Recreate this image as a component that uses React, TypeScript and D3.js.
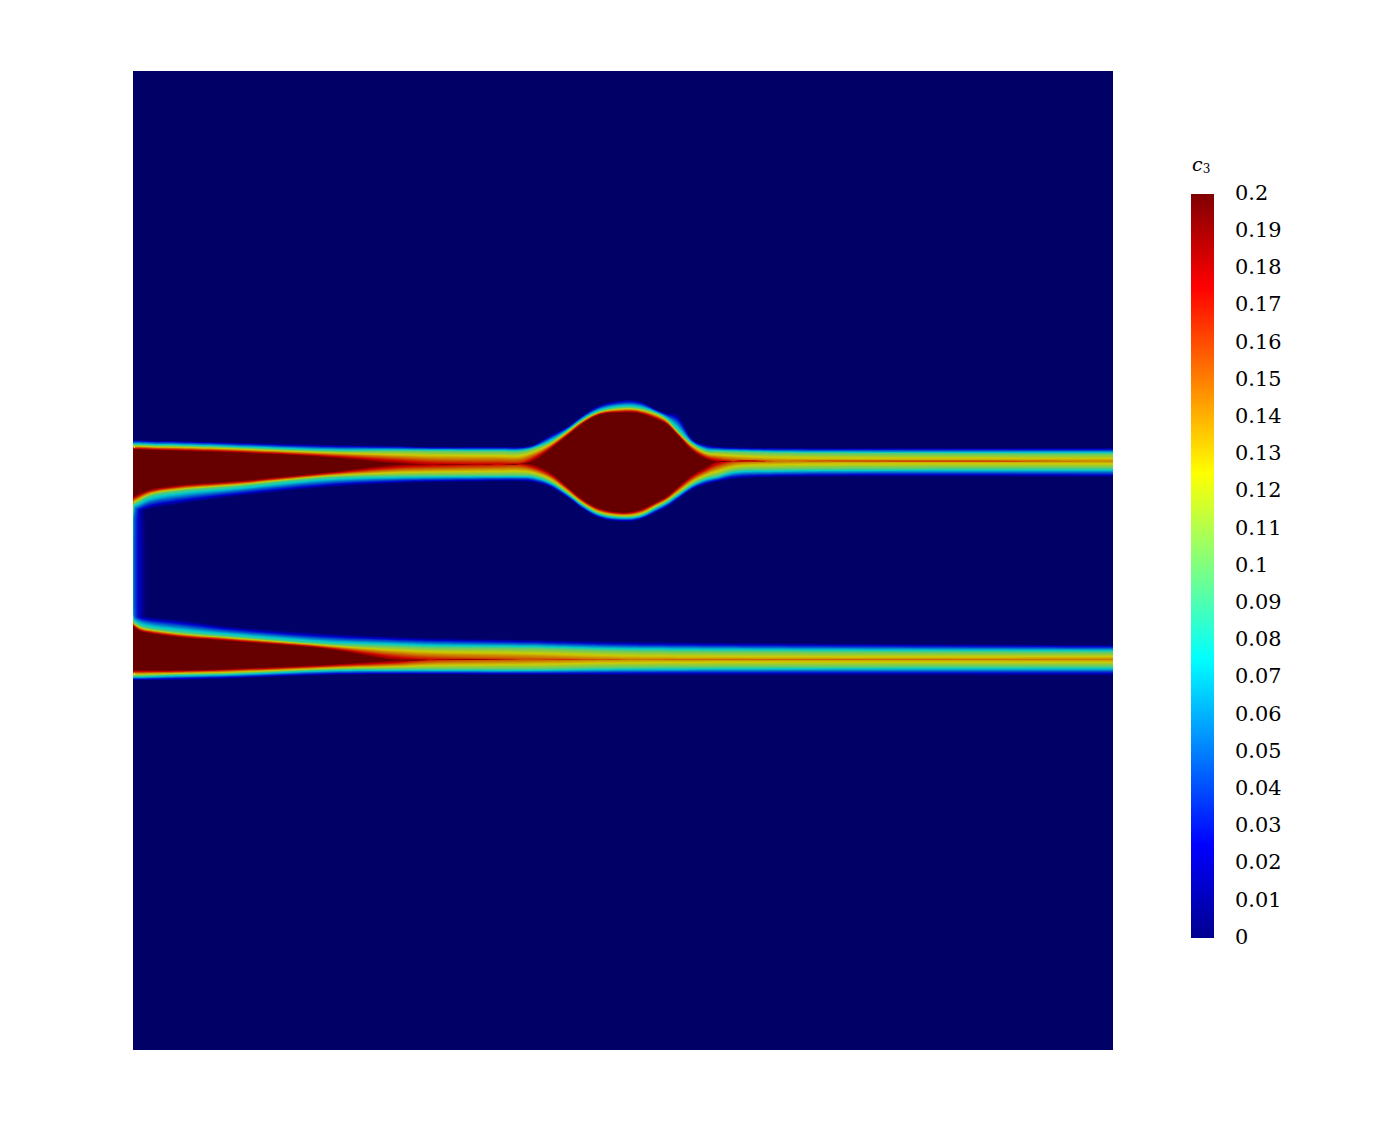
import * as d3 from "d3";

// contour lines of c3, in mesh units (0-980, y down from top of the domain)
// iso0 = edge of the navy, iso1 = c3 0.1, iso2 = c3 0.2 (past the peak where the band is thin)
const upperX = [0, 4, 17, 47, 97, 197, 264, 297, 367, 387, 400, 417, 434, 450, 467, 490, 507, 524, 534, 544, 560, 574, 584, 600, 647, 980];
const upperTop0 = [369, 369, 369.5, 370, 371.5, 374, 375, 376, 376, 376, 374, 364, 356, 344, 334, 329, 330, 339, 342, 343, 369, 374, 375.5, 376.5, 377, 377];
const upperTop1 = [374.5, 374.5, 375, 375.5, 377, 380.5, 380.5, 380.6, 381, 381, 378.3, 372, 360.7, 349, 340.7, 337, 338, 343, 349, 360, 374, 380.7, 381, 381.5, 382.5, 383.5];
const upperTop2 = [379, 379, 379.5, 380.5, 382, 387, 393, 396, 397, 397, 391, 379, 365.7, 353, 344, 342, 343, 349, 354, 364, 380.7, 389, 392, 395, 398.5, 399];
const upperBot2 = [426, 424, 419, 414.5, 411, 401.5, 394, 392.5, 390.5, 390, 394, 402, 415.7, 429, 438, 441.7, 439, 431, 425.7, 417, 404, 396, 390, 386, 382.5, 382];
const upperBot1 = [434, 432, 425, 420, 416, 406.5, 405, 404.7, 404.5, 404.5, 405, 410.7, 422, 434, 443, 446.3, 444.5, 436, 430.7, 424, 413, 407, 405, 400, 398.5, 397.5];
const upperBot0 = [444, 443, 439, 434, 427, 417, 413, 412, 411, 411, 412, 417, 427, 439, 448, 451.3, 449.5, 442, 437, 430, 419, 414, 411.7, 409, 407, 407];

const lowerX = [0, 7, 17, 47, 97, 197, 264, 297, 397, 497, 980];
const lowerTop0 = [541, 544, 546, 549, 555.7, 563, 566, 567, 569, 571, 574];
const lowerTop1 = [551, 555.7, 558.3, 562.3, 566.3, 574, 576, 577, 578, 580.5, 582];
const lowerTop2 = [556, 560.7, 563, 567, 570.7, 579, 590, 593, 596, 598.5, 597.5];
const lowerBot2 = [599.7, 599.7, 599.7, 599.7, 598.3, 594, 590, 586, 582, 580, 580.5];
const lowerBot1 = [605.7, 605.5, 605, 604, 603, 599, 598.5, 598.5, 598.5, 597, 596];
const lowerBot0 = [610, 610, 610, 609.7, 608.3, 605, 604.5, 604.5, 604.8, 605, 605.5];

// thin layer along the inlet, between the two bands
const inletY = [426, 434, 449, 489, 529, 544, 551, 557];
const inletPeak = [0.2, 0.12, 0.075, 0.07, 0.07, 0.075, 0.12, 0.2];
const inletDepth = [8, 11, 14, 15, 15, 14, 11, 8];

// stray white mesh pixels on the inlet
const fleckX = [1, 1];
const fleckY = [376, 603];

const tickValues = [0, 0.01, 0.02, 0.03, 0.04, 0.05, 0.06, 0.07, 0.08, 0.09, 0.1, 0.11, 0.12, 0.13, 0.14, 0.15, 0.16, 0.17, 0.18, 0.19, 0.2];
const jetStops = [0, 0.025, 0.075, 0.125, 0.175, 0.2];
const jetColors = ["#00008f", "#0000ff", "#00ffff", "#ffff00", "#ff0000", "#800000"];
const surfaceColors = ["#000066", "#0000cc", "#00cccc", "#cccc00", "#cc0000", "#660000"];
const levels = d3.range(1, 41).map((i) => i * 0.005);

// the surface is lit in the render, so it sits darker than the legend
const surfaceColor = d3.scaleLinear<string>().domain(jetStops).range(surfaceColors).clamp(true);

const FIELD = { left: 133, top: 71, size: 980 };
const x = d3.scaleLinear().domain([0, 980]).range([FIELD.left, FIELD.left + FIELD.size]);
const y = d3.scaleLinear().domain([0, 980]).range([FIELD.top, FIELD.top + FIELD.size - 1]);
const barY = d3.scaleLinear().domain([0, 0.2]).range([938, 194]);

type Contours = { xs: number[]; top: number[][]; bot: number[][] };

const upper: Contours = { xs: upperX, top: [upperTop0, upperTop1, upperTop2], bot: [upperBot0, upperBot1, upperBot2] };
const lower: Contours = { xs: lowerX, top: [lowerTop0, lowerTop1, lowerTop2], bot: [lowerBot0, lowerBot1, lowerBot2] };

function atLevel(lines: number[][], i: number, c: number) {
  if (c <= 0.1) return d3.interpolateNumber(lines[0][i], lines[1][i])(c / 0.1);
  return d3.interpolateNumber(lines[1][i], lines[2][i])((c - 0.1) / 0.1);
}

function bandPath(band: Contours, c: number) {
  const idx = d3.range(band.xs.length);
  // where the level is above the local peak the two edges cross: pinch to zero thickness
  const mid = (i: number) => (atLevel(band.top, i, c) + atLevel(band.bot, i, c)) / 2;
  return d3
    .area<number>()
    .x((i) => x(band.xs[i]))
    .y0((i) => y(Math.min(atLevel(band.top, i, c), mid(i))))
    .y1((i) => y(Math.max(atLevel(band.bot, i, c), mid(i))))
    .curve(d3.curveCatmullRom.alpha(0.5))(idx) as string;
}

function inletPath(c: number) {
  const idx = d3.range(inletY.length);
  return d3
    .area<number>()
    .y((i) => y(inletY[i]))
    .x0(() => x(0))
    .x1((i) => x(inletDepth[i] * Math.max(0, 1 - c / inletPeak[i]) ** 2))
    .curve(d3.curveMonotoneY)(idx) as string;
}

export default function App() {
  const serif = "'DejaVu Serif', serif";
  return (
    <svg width={1380} height={1146} style={{ position: "absolute", left: 0, top: 0, background: "#fff" }}>
      <defs>
        <linearGradient id="jetBar" x1="0" y1="1" x2="0" y2="0">
          {jetStops.map((s, i) => (
            <stop key={s} offset={s / 0.2} stopColor={jetColors[i]} />
          ))}
        </linearGradient>
        <clipPath id="fieldClip">
          <rect x={x(0)} y={y(0)} width={x(980) - x(0)} height={y(980) - y(0)} />
        </clipPath>
      </defs>

      <rect x={x(0)} y={y(0)} width={x(980) - x(0)} height={y(980) - y(0)} fill={surfaceColor(0)} />
      <g clipPath="url(#fieldClip)">
        {levels.map((c) => (
          <g key={c} fill={surfaceColor(c)}>
            <path d={inletPath(c)} />
            <path d={bandPath(upper, c)} />
            <path d={bandPath(lower, c)} />
          </g>
        ))}
        {fleckX.map((fx, i) => (
          <rect key={i} x={x(fx)} y={y(fleckY[i])} width={1} height={1} fill="#fff" />
        ))}
      </g>

      <rect x={1191} y={barY(0.2)} width={23} height={barY(0) - barY(0.2)} fill="url(#jetBar)" />
      <g fontFamily={serif} fontSize={20.9} fill="#000">
        {tickValues.map((t) => (
          <text key={t} x={1235} y={barY(t) + 5.7}>
            {d3.format("~g")(t)}
          </text>
        ))}
      </g>
      <text x={1192} y={171} fontFamily={serif} fontSize={19} fill="#000">
        <tspan fontStyle="italic">c</tspan>
        <tspan fontSize={12} dy={2}>3</tspan>
      </text>
    </svg>
  );
}
